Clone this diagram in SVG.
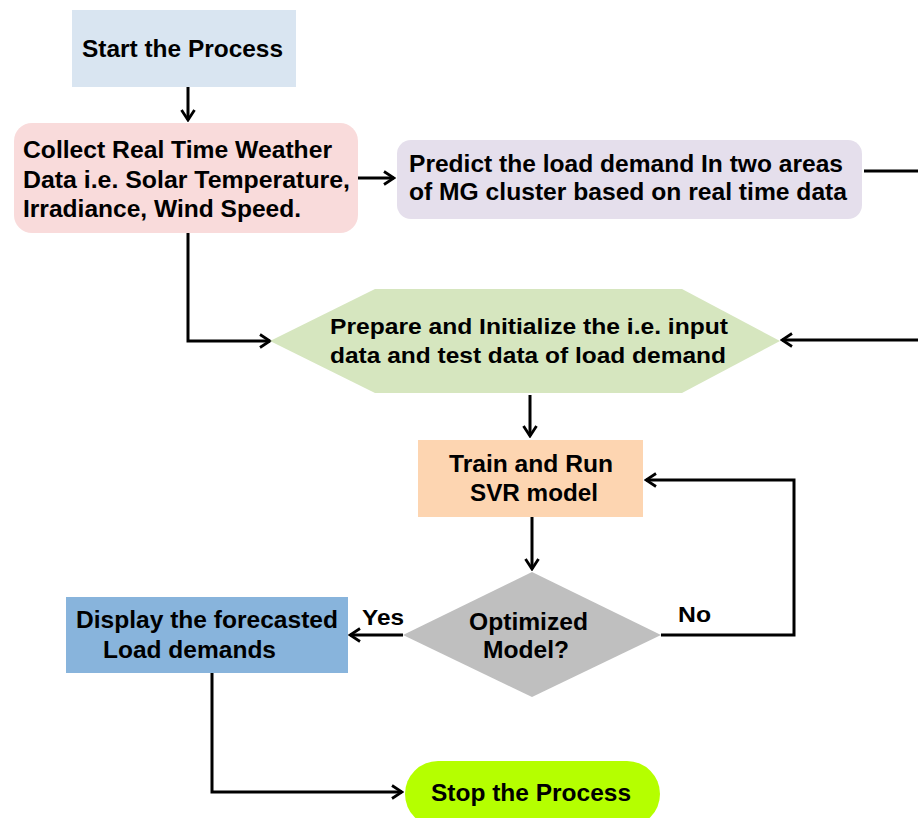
<svg xmlns="http://www.w3.org/2000/svg" width="918" height="818" viewBox="0 0 918 818">
<style>
text{font-family:"Liberation Sans",Arial,sans-serif;font-weight:bold;fill:#000}
.ln{fill:none;stroke:#000;stroke-width:3}
</style>
<defs>
<marker id="ah" markerUnits="userSpaceOnUse" markerWidth="14" markerHeight="16" viewBox="0 0 14 16" refX="12" refY="8" orient="auto">
<path d="M2,1.5 L12,8 L2,14.5" fill="none" stroke="#000" stroke-width="2.8"/>
</marker>
</defs>
<rect width="918" height="818" fill="#fff"/>
<g id="connectors">
<path class="ln" d="M188,87 V120" marker-end="url(#ah)"/>
<path class="ln" d="M358,178 H394" marker-end="url(#ah)"/>
<path class="ln" d="M864,171 H935 V340 H782" marker-end="url(#ah)"/>
<path class="ln" d="M188,233 V341 H270" marker-end="url(#ah)"/>
<path class="ln" d="M530,395 V436" marker-end="url(#ah)"/>
<path class="ln" d="M532,517 V569" marker-end="url(#ah)"/>
<path class="ln" d="M661,635 H794 V480 H646" marker-end="url(#ah)"/>
<path class="ln" d="M403,635 H350" marker-end="url(#ah)"/>
<path class="ln" d="M212,673 V792 H402" marker-end="url(#ah)"/>
<text x="362" y="625" font-size="22" textLength="42" lengthAdjust="spacingAndGlyphs">Yes</text>
<text x="678" y="622" font-size="22" textLength="33" lengthAdjust="spacingAndGlyphs">No</text>
</g>
<g id="start">
<rect x="72" y="10" width="224" height="77" fill="#d9e5f1"/>
<text x="82" y="57" font-size="24" textLength="201" lengthAdjust="spacingAndGlyphs">Start the Process</text>
</g>
<g id="collect">
<rect x="14" y="123" width="344" height="110" rx="18" fill="#f9dbdb"/>
<text x="23" y="158" font-size="24" textLength="309" lengthAdjust="spacingAndGlyphs">Collect Real Time Weather</text>
<text x="23" y="188" font-size="24" textLength="327" lengthAdjust="spacingAndGlyphs">Data i.e. Solar Temperature,</text>
<text x="23" y="217" font-size="24" textLength="278" lengthAdjust="spacingAndGlyphs">Irradiance, Wind Speed.</text>
</g>
<g id="predict">
<rect x="397" y="140" width="465" height="79" rx="14" fill="#e5dfec"/>
<text x="409" y="172" font-size="23" textLength="434" lengthAdjust="spacingAndGlyphs">Predict the load demand In two areas</text>
<text x="409" y="200" font-size="23" textLength="438" lengthAdjust="spacingAndGlyphs">of MG cluster based on real time data</text>
</g>
<g id="prepare">
<polygon points="270,341 375,289 682,289 780,341 682,393 375,393" fill="#d6e6bf"/>
<text x="330" y="334" font-size="22" textLength="398" lengthAdjust="spacingAndGlyphs">Prepare and Initialize the i.e. input</text>
<text x="330" y="363" font-size="22" textLength="396" lengthAdjust="spacingAndGlyphs">data and test data of load demand</text>
</g>
<g id="train">
<rect x="418" y="440" width="225" height="77" fill="#fdd5b1"/>
<text x="449" y="472" font-size="23" textLength="164" lengthAdjust="spacingAndGlyphs">Train and Run</text>
<text x="470" y="501" font-size="23" textLength="128" lengthAdjust="spacingAndGlyphs">SVR model</text>
</g>
<g id="decision">
<polygon points="532,572 661,635 532,697 403,635" fill="#bfbfbf"/>
<text x="469" y="630" font-size="23" textLength="119" lengthAdjust="spacingAndGlyphs">Optimized</text>
<text x="483" y="658" font-size="23" textLength="86" lengthAdjust="spacingAndGlyphs">Model?</text>
</g>
<g id="display">
<rect x="66" y="597" width="282" height="76" fill="#88b4dc"/>
<text x="76" y="628" font-size="23" textLength="262" lengthAdjust="spacingAndGlyphs">Display the forecasted</text>
<text x="103" y="658" font-size="23" textLength="173" lengthAdjust="spacingAndGlyphs">Load demands</text>
</g>
<g id="stop">
<rect x="405" y="761" width="255" height="66" rx="33" fill="#b5ff00"/>
<text x="431" y="801" font-size="24" textLength="200" lengthAdjust="spacingAndGlyphs">Stop the Process</text>
</g>
</svg>
